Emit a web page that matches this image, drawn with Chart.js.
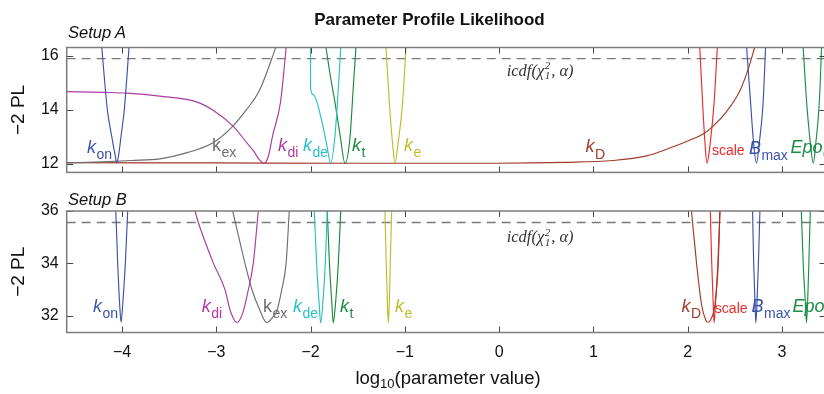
<!DOCTYPE html>
<html>
<head>
<meta charset="utf-8">
<script src="https://cdn.jsdelivr.net/npm/chart.js@4.4.0/dist/chart.umd.min.js"></script>
<style>
body { margin: 0; background: #fff; overflow: hidden; }
#wrap { position: relative; width: 824px; height: 394px; overflow: hidden; font-family: "Liberation Sans", Arial, sans-serif; color: #111; }
canvas { position: absolute; left: 0; }
.txt { position: absolute; white-space: nowrap; line-height: 1; }
#title { top: 10.5px; left: 429.5px; transform: translateX(-50%); font-size: 17px; font-weight: bold; }
.setup { left: 68px; font-size: 16.5px; font-style: italic; }
#xtitle { top: 369px; left: 448px; transform: translateX(-50%); font-size: 18.5px; }
#xtitle sub { font-size: 13px; vertical-align: -4px; line-height: 0; }
</style>
</head>
<body>
<div id="wrap">
  <canvas id="chartA" width="830" height="190" style="top:0"></canvas>
  <canvas id="chartB" width="830" height="204" style="top:190px"></canvas>
  <div class="txt" id="title">Parameter Profile Likelihood</div>
  <div class="txt setup" style="top:23.5px">Setup A</div>
  <div class="txt setup" style="top:191px">Setup B</div>
  <div class="txt" id="xtitle">log<sub>10</sub>(parameter value)</div>
</div>
<script>
// axis ticks
var xTicks = [-4, -3, -2, -1, 0, 1, 2, 3];
var yTicksA = [12, 14, 16];
var yTicksB = [32, 34, 36];
var thresholdA = 15.89;
var thresholdB = 35.56;

// Setup A profiles: [log10(parameter value), -2 PL]
var konA = [[-4.215,16.3],[-4.156,14.0],[-4.109,13.0],[-4.075,12.35],[-4.056,12.03],[-4.035,12.35],[-4.011,13.0],[-3.976,14.0],[-3.926,16.3]];
var kexA = [[-4.586,12.03],[-4.2,12.07],[-3.9,12.12],[-3.6,12.18],[-3.3,12.42],[-3.03,12.79],[-2.85,13.3],[-2.68,14.0],[-2.54,14.73],[-2.41,15.9],[-2.37,16.3]];
var kdiA = [[-4.586,14.67],[-4.2,14.64],[-3.95,14.61],[-3.6,14.5],[-3.21,14.29],[-3.03,13.97],[-2.82,13.38],[-2.68,12.79],[-2.6,12.45],[-2.55,12.18],[-2.494,12.02],[-2.45,12.25],[-2.40,13.08],[-2.32,14.26],[-2.27,15.9],[-2.26,16.3]];
var kdeA = [[-2.001,16.3],[-2.0,14.79],[-1.97,14.55],[-1.88,13.56],[-1.83,12.73],[-1.787,12.02],[-1.74,13.08],[-1.705,14.85],[-1.68,16.3]];
var ktA = [[-1.837,16.3],[-1.794,15.32],[-1.741,14.26],[-1.688,13.08],[-1.635,12.02],[-1.582,12.97],[-1.547,14.85],[-1.519,16.3]];
var keA = [[-1.2,16.3],[-1.165,14.26],[-1.13,12.73],[-1.105,12.02],[-1.073,12.73],[-1.024,14.26],[-0.988,16.3]];
var kDA = [[-4.586,12.04],[-3,12.03],[-1.5,12.02],[0,12.02],[0.7,12.05],[1.21,12.12],[1.563,12.29],[1.81,12.58],[2.02,12.87],[2.165,13.1],[2.27,13.39],[2.41,13.92],[2.55,14.67],[2.64,15.48],[2.71,16.3]];
var scaleA = [[2.128,16.3],[2.158,14.26],[2.184,12.73],[2.205,12.02],[2.238,12.73],[2.28,14.26],[2.314,16.3]];
var bmaxA = [[2.625,16.3],[2.667,14.26],[2.70,12.73],[2.73,12.02],[2.758,12.73],[2.80,14.26],[2.826,16.3]];
var epoA = [[3.225,16.3],[3.262,14.26],[3.30,12.8],[3.332,12.02],[3.36,12.8],[3.396,14.26],[3.42,16.3]];

// Setup B profiles
var konB = [[-4.066,36],[-4.046,34.0],[-4.025,32.42],[-4.01,31.75],[-3.993,32.42],[-3.965,34.0],[-3.94,36]];
var kdiB = [[-3.226,36],[-3.19,35.55],[-3.03,34.0],[-2.908,33.0],[-2.855,32.23],[-2.784,31.74],[-2.72,32.1],[-2.66,33.0],[-2.608,34.0],[-2.555,36]];
var kexB = [[-2.826,36],[-2.696,34.0],[-2.625,33.03],[-2.537,32.2],[-2.466,31.74],[-2.40,31.95],[-2.36,32.16],[-2.306,33.0],[-2.26,34.0],[-2.226,36]];
var kdeB = [[-1.961,36],[-1.936,34.0],[-1.91,32.5],[-1.893,31.73],[-1.87,32.5],[-1.844,34.0],[-1.823,36]];
var ktB = [[-1.823,36],[-1.80,34.0],[-1.775,32.5],[-1.76,31.73],[-1.735,32.5],[-1.706,34.0],[-1.68,36]];
var keB = [[-1.211,36],[-1.198,34.0],[-1.185,32.5],[-1.176,31.73],[-1.165,32.5],[-1.155,34.0],[-1.14,36]];
var kDB = [[2.04,36],[2.094,34.0],[2.147,32.42],[2.19,31.85],[2.218,31.75],[2.25,31.9],[2.289,32.42],[2.324,34.0],[2.342,36]];
var scaleB = [[2.24,36],[2.255,34.0],[2.27,32.5],[2.28,31.73],[2.295,32.5],[2.32,34.0],[2.342,36]];
var bmaxB = [[2.688,36],[2.70,34.0],[2.714,32.5],[2.723,31.73],[2.735,32.5],[2.75,34.0],[2.766,36]];
var epoB = [[3.205,36],[3.225,34.0],[3.248,32.5],[3.26,31.73],[3.272,32.5],[3.285,34.0],[3.30,36]];

// curve labels: [key, main, sub, x, y]
var labelsA = [['kon','k','on',-4.371,12.41],['kex','k','ex',-3.046,12.48],['kdi','k','di',-2.346,12.48],['kde','k','de',-2.081,12.48],
  ['kt','k','t',-1.561,12.48],['ke','k','e',-1.010,12.48],['kD','k','D',0.917,12.43],['scale','scale','',2.257,12.34],
  ['Bmax','B','max',2.649,12.37],['Epo','Epo','0',3.091,12.41]];
var labelsB = [['kon','k','on',-4.308,32.16],['kdi','k','di',-3.155,32.16],['kex','k','ex',-2.505,32.16],['kde','k','de',-2.187,32.16],
  ['kt','k','t',-1.688,32.16],['ke','k','e',-1.105,32.16],['kD','k','D',1.935,32.16],['scale','scale','',2.288,32.1],
  ['Bmax','B','max',2.678,32.16],['Epo','Epo','0',3.112,32.16]];

var colors = {kon:'#3a52ad', kex:'#6e6e6e', kdi:'#ac3aa0', kde:'#2bbfc0', kt:'#198a3c', ke:'#bdbd2c',
  kD:'#a23a2a', scale:'#ee2a2a', Bmax:'#3a52ad', Epo:'#1b8f46'};
var upright = {kex: true, scale: true};

var FONT = '"Liberation Sans", Arial, sans-serif';

function toXY(arr) {
	return arr.map(function(p){ return {x: p[0], y: p[1]}; });
}

var frameTicks = {
	id: 'frameTicks',
	afterDatasetsDraw: function(chart) {
		var ctx = chart.ctx, a = chart.chartArea, x = chart.scales.x, y = chart.scales.y;
		ctx.save();
		ctx.strokeStyle = '#444';
		ctx.lineWidth = 1;
		ctx.beginPath();
		x.ticks.forEach(function(t){
			var px = Math.round(x.getPixelForValue(t.value)) + 0.5;
			ctx.moveTo(px, a.bottom); ctx.lineTo(px, a.bottom - 6);
			ctx.moveTo(px, a.top); ctx.lineTo(px, a.top + 6);
		});
		y.ticks.forEach(function(t){
			var py = Math.round(y.getPixelForValue(t.value)) + 0.5;
			ctx.moveTo(a.left, py); ctx.lineTo(a.left + 6.5, py);
			ctx.moveTo(a.right, py); ctx.lineTo(a.right - 6.5, py);
		});
		ctx.stroke();
		ctx.strokeStyle = '#7c7c7c';
		ctx.lineWidth = 1.5;
		ctx.strokeRect(a.left, a.top, a.right - a.left, a.bottom - a.top);
		ctx.restore();
	},
	afterDraw: function(chart, args, opts) {
		var ctx = chart.ctx, x = chart.scales.x, y = chart.scales.y;
		ctx.save();
		ctx.textBaseline = 'alphabetic';
		ctx.textAlign = 'left';
		opts.labels.forEach(function(l){
			var px = x.getPixelForValue(l[3]), py = y.getPixelForValue(l[4]);
			ctx.fillStyle = colors[l[0]];
			if (l[0] === 'scale') {
				ctx.font = '14px ' + FONT;
				ctx.fillText(l[1], px, py);
				return;
			}
			ctx.font = (upright[l[0]] ? '' : 'italic ') + '18px ' + FONT;
			ctx.fillText(l[1], px, py);
			var w = ctx.measureText(l[1]).width;
			ctx.font = '14px ' + FONT;
			ctx.fillText(l[2], px + w + 0.5, py + 6.5);
		});
		// threshold label
		var tx = x.getPixelForValue(opts.icdf[0]), ty = y.getPixelForValue(opts.icdf[1]);
		var serif = '"Liberation Serif", "DejaVu Serif", serif';
		ctx.fillStyle = '#333';
		ctx.font = 'italic 16.5px ' + serif;
		ctx.fillText('icdf(\u03c7', tx, ty);
		var w1 = ctx.measureText('icdf(\u03c7').width;
		ctx.font = 'italic 11px ' + serif;
		ctx.fillText('2', tx + w1 + 0.5, ty - 6.5);
		ctx.fillText('1', tx + w1 + 0.5, ty + 3.5);
		ctx.font = 'italic 16.5px ' + serif;
		ctx.fillText(', \u03b1)', tx + w1 + 7, ty);
		ctx.restore();
	}
};

function panel(canvasId, series, labels, threshold, yMin, yMax, yTicks, padTop, isBottom, icdf) {
	var xMin = -4.587, xMax = 3.467;
	var datasets = series.map(function(s){
		return {
			data: toXY(s[1]),
			borderColor: colors[s[0]],
			borderWidth: 1.15,
			pointRadius: 0,
			cubicInterpolationMode: 'monotone',
			fill: false
		};
	});
	datasets.push({
		data: [{x: xMin, y: threshold}, {x: xMax, y: threshold}],
		borderColor: '#7a7a7a',
		borderWidth: 1.4,
		borderDash: [9, 6],
		pointRadius: 0
	});
	new Chart(document.getElementById(canvasId).getContext('2d'), {
		type: 'line',
		data: {datasets: datasets},
		options: {
			responsive: false,
			animation: false,
			events: [],
			layout: {padding: {top: padTop, bottom: isBottom ? 0 : 10, left: 0, right: 4}},
			plugins: {
				legend: {display: false},
				tooltip: {enabled: false},
				frameTicks: {labels: labels, icdf: icdf}
			},
			scales: {
				x: {
					type: 'linear', min: xMin, max: xMax,
					grid: {display: false, drawTicks: false},
					border: {display: false},
					afterBuildTicks: function(s){ s.ticks = xTicks.map(function(v){ return {value: v}; }); },
					afterFit: function(s){ s.height = isBottom ? 61.5 : 0; },
					ticks: {
						display: isBottom, padding: 10.5, color: '#111',
						font: {family: FONT, size: 16},
						callback: function(v){ return v < 0 ? '\u2212' + Math.abs(v) : String(v); }
					}
				},
				y: {
					min: yMin, max: yMax,
					grid: {display: false, drawTicks: false},
					border: {display: false},
					afterBuildTicks: function(s){ s.ticks = yTicks.map(function(v){ return {value: v}; }); },
					afterFit: function(s){ s.width = 66.7; },
					ticks: {padding: 8, color: '#111', font: {family: FONT, size: 16}},
					title: {display: true, text: '\u22122 PL', color: '#111', font: {family: FONT, size: 19}, padding: {top: 7, bottom: 0}}
				}
			}
		},
		plugins: [frameTicks]
	});
}

panel('chartA',
	[['kon', konA], ['kex', kexA], ['kdi', kdiA], ['kde', kdeA], ['kt', ktA], ['ke', keA], ['kD', kDA], ['scale', scaleA], ['Bmax', bmaxA], ['Epo', epoA]],
	labelsA, thresholdA, 11.68, 16.3, yTicksA, 47.5, false, [0.08, 15.26]);
panel('chartB',
	[['kon', konB], ['kdi', kdiB], ['kex', kexB], ['kde', kdeB], ['kt', ktB], ['ke', keB], ['kD', kDB], ['scale', scaleB], ['Bmax', bmaxB], ['Epo', epoB]],
	labelsB, thresholdB, 31.36, 36, yTicksB, 21, true, [0.08, 34.8]);
</script>
</body>
</html>
